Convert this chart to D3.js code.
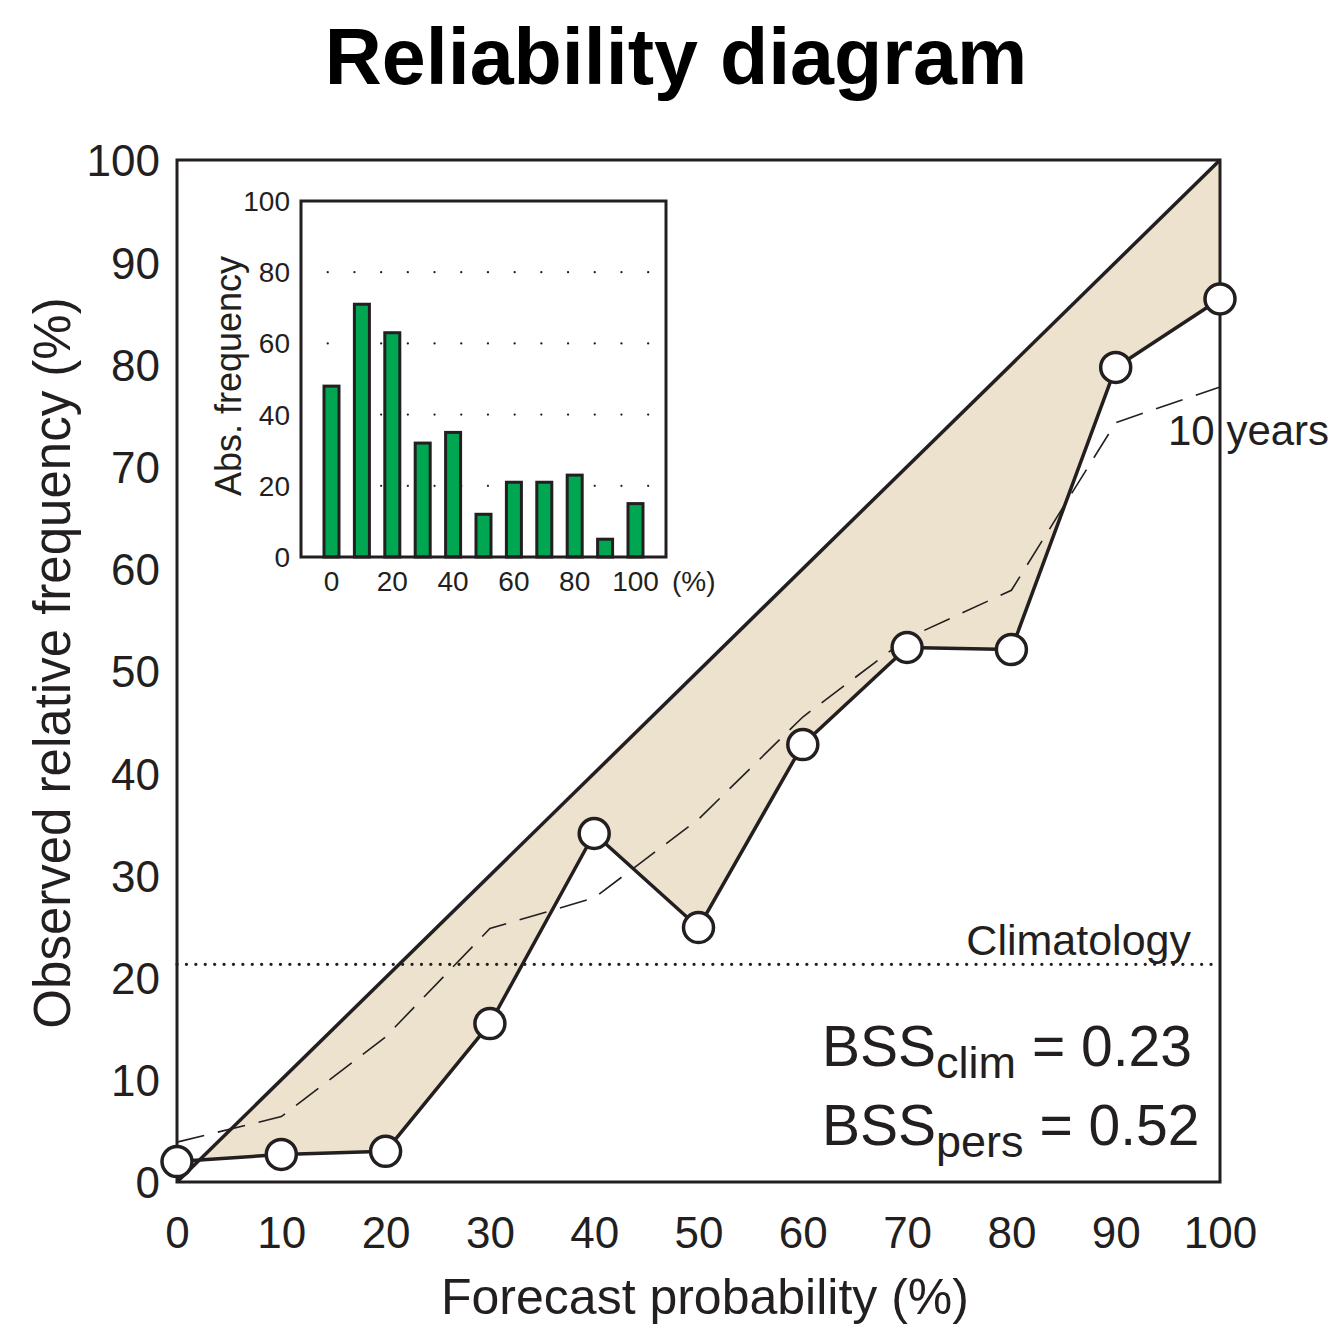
<!DOCTYPE html>
<html>
<head>
<meta charset="utf-8">
<script src="https://cdn.jsdelivr.net/npm/d3@7"></script>
<style>
  body { margin: 0; background: #fff; }
  svg { display: block; font-family: "Liberation Sans", Arial, Helvetica, sans-serif; }
</style>
</head>
<body>
<div id="chart"></div>
<script>
// reliability data
const forecastProb = [0, 10, 20, 30, 40, 50, 60, 70, 80, 90, 100];
const observedFreq = [2.0, 2.7, 3.0, 15.5, 34.1, 24.9, 42.8, 52.3, 52.1, 79.7, 86.4];
const tenYearFreq = [3.9, 6.4, 14.2, 24.8, 27.8, 35.5, 45.5, 53.2, 57.9, 74.3, 77.8];
const climatology = 21.3;
// inset histogram
const absFrequency = [48, 71, 63, 32, 35, 12, 21, 21, 23, 5, 15];
const mainTicks = [0, 10, 20, 30, 40, 50, 60, 70, 80, 90, 100];
const insetTicks = [0, 20, 40, 60, 80, 100];
const insetGrid = [20, 40, 60, 80];
const bssClim = "0.23";
const bssPers = "0.52";

const width = 1338, height = 1326;
const ink = "#231f20";

const svg = d3.select("#chart").append("svg")
  .attr("width", width).attr("height", height);

const x = d3.scaleLinear().domain([0, 100]).range([177, 1220]);
const y = d3.scaleLinear().domain([0, 100]).range([1182, 160]);

// title
svg.append("text")
  .attr("x", 676).attr("y", 84)
  .attr("text-anchor", "middle")
  .style("font-size", "79px").style("font-weight", "bold")
  .text("Reliability diagram");

// shaded area between diagonal and curve (only where curve is below)
const pts = [];
for (let i = 0; i < forecastProb.length; i++) {
  const p = forecastProb[i], o = observedFreq[i];
  if (i > 0) {
    const p0 = forecastProb[i - 1], o0 = observedFreq[i - 1];
    const f0 = p0 - o0, f1 = p - o;
    if (f0 * f1 < 0) {
      const t = f0 / (f0 - f1);
      const px = p0 + t * (p - p0);
      pts.push({ p: px, o: px });
    }
  }
  pts.push({ p: p, o: o });
}
const area = d3.area()
  .x(d => x(d.p))
  .y0(d => y(d.p))
  .y1(d => y(Math.min(d.o, d.p)));
svg.append("path").datum(pts)
  .attr("d", area)
  .attr("fill", "#ece2cd");

// climatology line
svg.append("line")
  .attr("x1", x(0)).attr("x2", x(100))
  .attr("y1", y(climatology)).attr("y2", y(climatology))
  .attr("stroke", ink).attr("stroke-width", 3.2)
  .attr("stroke-linecap", "round")
  .attr("stroke-dasharray", "0.1,9.3");

svg.append("text")
  .attr("x", 1191).attr("y", 955)
  .attr("text-anchor", "end")
  .style("font-size", "43px").attr("fill", ink)
  .text("Climatology");

// 10 years dashed
const line = d3.line().x((d, i) => x(forecastProb[i])).y(d => y(d));
svg.append("path").datum(tenYearFreq)
  .attr("d", line)
  .attr("fill", "none").attr("stroke", ink)
  .attr("stroke-width", 1.6)
  .attr("stroke-dasharray", "28,14");

svg.append("text")
  .attr("x", 1168).attr("y", 445)
  .style("font-size", "42px").attr("fill", ink)
  .text("10 years");

// diagonal
svg.append("line")
  .attr("x1", x(0)).attr("y1", y(0))
  .attr("x2", x(100)).attr("y2", y(100))
  .attr("stroke", ink).attr("stroke-width", 3.5);

// frame
svg.append("rect")
  .attr("x", x(0)).attr("y", y(100))
  .attr("width", x(100) - x(0)).attr("height", y(0) - y(100))
  .attr("fill", "none").attr("stroke", ink).attr("stroke-width", 3);

// reliability curve
svg.append("path").datum(observedFreq)
  .attr("d", line)
  .attr("fill", "none").attr("stroke", ink)
  .attr("stroke-width", 3.5).attr("stroke-linejoin", "round");

svg.selectAll(".pt").data(observedFreq).join("circle")
  .attr("class", "pt")
  .attr("cx", (d, i) => x(forecastProb[i]))
  .attr("cy", d => y(d))
  .attr("r", 15)
  .attr("fill", "#fff").attr("stroke", ink).attr("stroke-width", 3.5);

// axes (labels only, no tick marks)
const xAxis = svg.append("g")
  .attr("transform", `translate(0,${y(0)})`)
  .call(d3.axisBottom(x).tickValues(mainTicks).tickSize(0).tickPadding(66));
xAxis.select(".domain").remove();
xAxis.selectAll("text").style("font-size", "44px").attr("fill", ink)
  .attr("font-family", null).attr("dy", null);

const yAxis = svg.append("g")
  .attr("transform", `translate(${x(0)},0)`)
  .call(d3.axisLeft(y).tickValues(mainTicks).tickSize(0).tickPadding(17));
yAxis.select(".domain").remove();
yAxis.selectAll("text").style("font-size", "44px").attr("fill", ink)
  .attr("font-family", null).attr("dy", "0.36em");

svg.append("text")
  .attr("x", 705).attr("y", 1314)
  .attr("text-anchor", "middle")
  .style("font-size", "50px").attr("fill", ink)
  .text("Forecast probability (%)");

svg.append("text")
  .attr("transform", "translate(70,663) rotate(-90)")
  .attr("text-anchor", "middle")
  .style("font-size", "51px").attr("fill", ink)
  .text("Observed relative frequency (%)");

// BSS annotations
const bss = [
  { sub: "clim", val: bssClim, y: 1066 },
  { sub: "pers", val: bssPers, y: 1145 }
];
bss.forEach(b => {
  const t = svg.append("text")
    .attr("x", 822).attr("y", b.y)
    .attr("fill", ink).style("font-size", "57px");
  t.append("tspan").text("BSS");
  t.append("tspan").attr("dy", 12).style("font-size", "45px").text(b.sub);
  t.append("tspan").attr("dy", -12).text(" = " + b.val);
});

// inset histogram
const ix = d3.scaleLinear().domain([0, 100]).range([331.5, 635.5]);
const iy = d3.scaleLinear().domain([0, 100]).range([557, 201]);
const inset = svg.append("g");

inset.selectAll(".grid").data(insetGrid).join("line")
  .attr("class", "grid")
  .attr("x1", 327.7).attr("x2", 650)
  .attr("y1", d => iy(d)).attr("y2", d => iy(d))
  .attr("stroke", ink).attr("stroke-width", 2.2)
  .attr("stroke-linecap", "round")
  .attr("stroke-dasharray", "0.1,26.6");

inset.selectAll(".bar").data(absFrequency).join("rect")
  .attr("class", "bar")
  .attr("x", (d, i) => ix(forecastProb[i]) - 7.5)
  .attr("width", 15)
  .attr("y", d => iy(d))
  .attr("height", d => iy(0) - iy(d))
  .attr("fill", "#00a651").attr("stroke", ink).attr("stroke-width", 3);

inset.append("rect")
  .attr("x", 301).attr("y", iy(100))
  .attr("width", 365).attr("height", iy(0) - iy(100))
  .attr("fill", "none").attr("stroke", ink).attr("stroke-width", 3);

inset.selectAll(".iyt").data(insetTicks).join("text")
  .attr("class", "iyt")
  .attr("x", 290).attr("y", d => iy(d))
  .attr("dy", "0.36em").attr("text-anchor", "end")
  .style("font-size", "28px").attr("fill", ink)
  .text(d => d);

inset.selectAll(".ixt").data(insetTicks).join("text")
  .attr("class", "ixt")
  .attr("x", d => ix(d)).attr("y", 591)
  .attr("text-anchor", "middle")
  .style("font-size", "28px").attr("fill", ink)
  .text(d => d);

inset.append("text")
  .attr("x", 672).attr("y", 591)
  .style("font-size", "28px").attr("fill", ink)
  .text("(%)");

inset.append("text")
  .attr("transform", "translate(241,376) rotate(-90)")
  .attr("text-anchor", "middle")
  .style("font-size", "36px").attr("fill", ink)
  .text("Abs. frequency");
</script>
</body>
</html>
